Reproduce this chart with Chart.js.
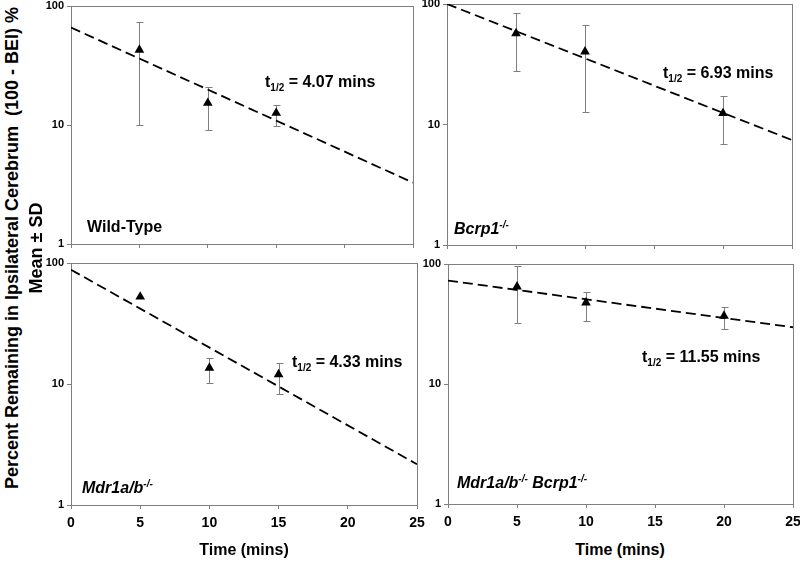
<!DOCTYPE html>
<html>
<head>
<meta charset="utf-8">
<script src="https://cdn.jsdelivr.net/npm/chart.js@4.4.1/dist/chart.umd.min.js"></script>
<style>
  html, body { margin:0; padding:0; background:#fff; }
  #wrap { position:relative; width:800px; height:563px; background:#fff; overflow:hidden;
          font-family:"Liberation Sans", Arial, Helvetica, sans-serif; font-weight:bold; color:#000; }
  #wrap canvas { position:absolute; }
  .txt { position:absolute; white-space:nowrap; font-size:16px; line-height:16px; }
  .it { font-style:italic; }
  .txt sub { font-size:10px; vertical-align:-4px; line-height:0; }
  .txt sup { font-size:10px; vertical-align:6px; line-height:0; }
  .ytitle { position:absolute; width:600px; text-align:center; font-size:18px; line-height:18px;
            transform:rotate(-90deg); transform-origin:50% 50%; white-space:pre; }
</style>
</head>
<body>
<div id="wrap">
  <div class="ytitle" style="left:-288px; top:239px;">Percent Remaining in Ipsilateral Cerebrum  (100 - BEI) %</div>
  <div class="ytitle" style="left:-264px; top:239px;">Mean ± SD</div>

  <div class="txt" style="left:265px; top:74px;">t<sub>1/2</sub> = 4.07 mins</div>
  <div class="txt" style="left:663px; top:65px;">t<sub>1/2</sub> = 6.93 mins</div>
  <div class="txt" style="left:292px; top:354px;">t<sub>1/2</sub> = 4.33 mins</div>
  <div class="txt" style="left:642px; top:349px;">t<sub>1/2</sub> = 11.55 mins</div>

  <div class="txt" style="left:87px; top:219px;">Wild-Type</div>
  <div class="txt it" style="left:454px; top:221px;">Bcrp1<sup>-/-</sup></div>
  <div class="txt it" style="left:82px; top:480px;">Mdr1a/b<sup>-/-</sup></div>
  <div class="txt it" style="left:457px; top:475px;">Mdr1a/b<sup>-/-</sup> Bcrp1<sup>-/-</sup></div>

  <div class="txt" style="left:144px; top:542px; width:200px; text-align:center;">Time (mins)</div>
  <div class="txt" style="left:520px; top:542px; width:200px; text-align:center;">Time (mins)</div>
</div>
<script>
// ---- data ----
const xTicks = [0, 5, 10, 15, 20, 25];
const yTicks = [1, 10, 100];
const fitX = [0, 25];

// Wild-Type
const wtTimes = [5, 10, 15];
const wtMean  = [42.8, 15.3, 12.6];
const wtHigh  = [73, 21, 14.8];
const wtLow   = [10, 9, 9.9];
const wtFit   = [65.9, 3.28];

// Bcrp1-/-
const bcTimes = [5, 10, 20];
const bcMean  = [57, 40.2, 12.4];
const bcHigh  = [85, 67, 17.3];
const bcLow   = [27.8, 12.6, 6.85];
const bcFit   = [100, 7.43];

// Mdr1a/b-/-
const mdTimes = [5, 10, 15];
const mdMean  = [52.6, 13.6, 12.0];
const mdHigh  = [null, 16.5, 15.0];
const mdLow   = [null, 10.2, 8.3];
const mdFit   = [88, 2.17];

// Mdr1a/b-/- Bcrp1-/-
const tkTimes = [5, 10, 20];
const tkMean  = [64.8, 47.7, 36.9];
const tkHigh  = [96.8, 58.9, 44.2];
const tkLow   = [32, 33.8, 28.6];
const tkFit   = [72.7, 29.7];

// ---- layout ----
const panels = [
  { area:{l:71,  t:6,   r:413, b:244}, times:wtTimes, mean:wtMean, hi:wtHigh, lo:wtLow, fit:wtFit, labels:false },
  { area:{l:447, t:4,   r:792, b:245}, times:bcTimes, mean:bcMean, hi:bcHigh, lo:bcLow, fit:bcFit, labels:false },
  { area:{l:71,  t:263, r:417, b:505}, times:mdTimes, mean:mdMean, hi:mdHigh, lo:mdLow, fit:mdFit, labels:true },
  { area:{l:448, t:264, r:793, b:504}, times:tkTimes, mean:tkMean, hi:tkHigh, lo:tkLow, fit:tkFit, labels:true }
];

const YW = 36, PT = 10, PR = 14, XH = 32;
const GRAY = '#7f7f7f';
const FONT = '"Liberation Sans", Arial, Helvetica, sans-serif';
const wrap = document.getElementById('wrap');

panels.forEach((p, idx) => {
  const a = p.area;
  const cv = document.createElement('canvas');
  cv.width = (a.r - a.l) + YW + PR;
  cv.height = (a.b - a.t) + PT + XH;
  cv.style.left = (a.l - YW) + 'px';
  cv.style.top = (a.t - PT) + 'px';
  cv.style.width = cv.width + 'px';
  cv.style.height = cv.height + 'px';
  wrap.insertBefore(cv, wrap.firstChild);

  const framePlugin = {
    id: 'frame' + idx,
    beforeDatasetsDraw(chart) {
      const ca = chart.chartArea, ctx = chart.ctx;
      ctx.save();
      ctx.strokeStyle = GRAY;
      ctx.lineWidth = 1;
      ctx.strokeRect(Math.round(ca.left) + 0.5, Math.round(ca.top) + 0.5,
                     Math.round(ca.right - ca.left), Math.round(ca.bottom - ca.top));
      // error bars
      const xs = chart.scales.x, ys = chart.scales.y;
      p.times.forEach((t, i) => {
        if (p.hi[i] == null || p.lo[i] == null) return;
        const x = Math.round(xs.getPixelForValue(t)) + 0.5;
        const y1 = Math.round(ys.getPixelForValue(p.hi[i])) + 0.5;
        const y2 = Math.round(ys.getPixelForValue(p.lo[i])) + 0.5;
        ctx.beginPath();
        ctx.moveTo(x, y1); ctx.lineTo(x, y2);
        ctx.moveTo(x - 3, y1); ctx.lineTo(x + 4, y1);
        ctx.moveTo(x - 3, y2); ctx.lineTo(x + 4, y2);
        ctx.stroke();
      });
      ctx.restore();
    }
  };

  new Chart(cv, {
    type: 'scatter',
    data: {
      datasets: [
        {
          data: p.times.map((t, i) => ({ x: t, y: p.mean[i] })),
          pointStyle: 'triangle',
          pointRadius: 5.6,
          pointHoverRadius: 5.6,
          backgroundColor: '#000',
          borderColor: '#000',
          borderWidth: 0,
          order: 0
        },
        {
          data: fitX.map((t, i) => ({ x: t, y: p.fit[i] })),
          showLine: true,
          borderColor: '#000',
          borderWidth: 1.8,
          borderDash: [10, 5],
          pointRadius: 0,
          pointHoverRadius: 0,
          order: 1
        }
      ]
    },
    options: {
      responsive: false,
      animation: false,
      devicePixelRatio: 1,
      events: [],
      layout: { autoPadding: false, padding: { top: PT, right: PR, left: 0, bottom: 0 } },
      plugins: { legend: { display: false }, tooltip: { enabled: false }, title: { display: false } },
      scales: {
        x: {
          type: 'linear', min: 0, max: 25,
          afterBuildTicks: s => { s.ticks = xTicks.map(v => ({ value: v })); },
          afterFit: s => { s.height = XH; },
          grid: { display: true, drawOnChartArea: false, drawTicks: true, tickLength: 4, color: GRAY },
          border: { display: false },
          ticks: {
            color: p.labels ? '#000' : 'rgba(0,0,0,0)',
            font: { family: FONT, size: 14, weight: 'bold' },
            padding: 6,
            maxRotation: 0,
            autoSkip: false,
            callback: v => String(v)
          }
        },
        y: {
          type: 'logarithmic', min: 1, max: 100,
          afterBuildTicks: s => { s.ticks = yTicks.map(v => ({ value: v })); },
          afterFit: s => { s.width = YW; },
          grid: { display: true, drawOnChartArea: false, drawTicks: true, tickLength: 4, color: GRAY },
          border: { display: false },
          ticks: {
            color: '#000',
            font: { family: FONT, size: 11, weight: 'bold' },
            padding: 3,
            autoSkip: false,
            callback: v => String(v)
          }
        }
      }
    },
    plugins: [framePlugin]
  });
});
</script>
</body>
</html>
